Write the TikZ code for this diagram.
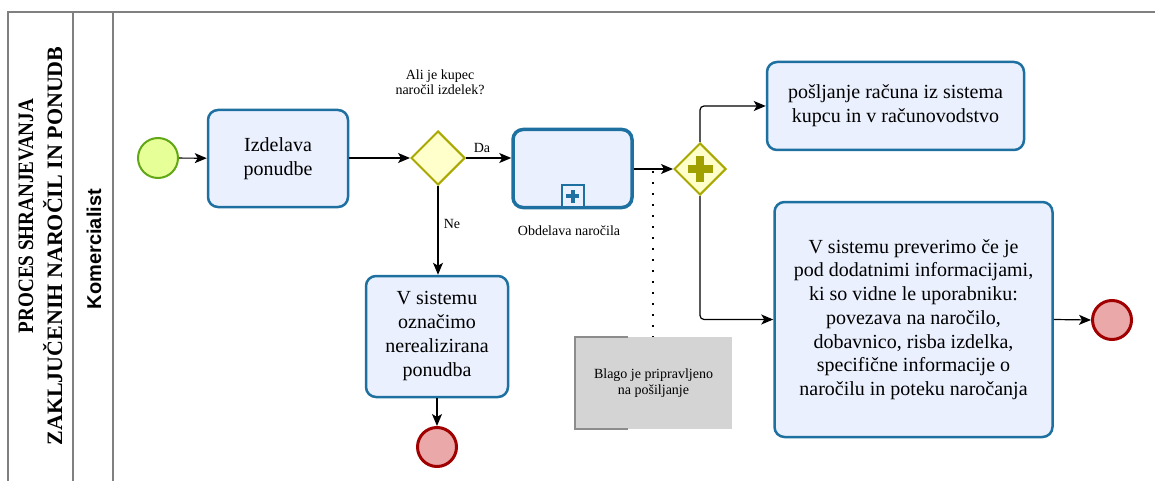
\documentclass[tikz,border=0pt]{standalone}
\usepackage{fontspec}
\setmainfont{Liberation Serif}
\newfontfamily\lsans{Liberation Sans}
\usetikzlibrary{shapes.geometric,arrows.meta,calc}

\definecolor{taskfill}{RGB}{234,240,253}
\definecolor{taskline}{RGB}{30,112,160}
\definecolor{startfill}{RGB}{230,255,151}
\definecolor{startline}{RGB}{98,167,22}
\definecolor{endfill}{RGB}{235,168,168}
\definecolor{endline}{RGB}{160,0,0}
\definecolor{gwfill}{RGB}{255,255,204}
\definecolor{gwline}{RGB}{168,168,0}
\definecolor{gwmark}{RGB}{160,160,0}
\definecolor{poolline}{RGB}{128,128,128}
\definecolor{notefill}{RGB}{212,212,212}
\definecolor{notebar}{RGB}{140,140,140}

\tikzset{
  task/.style={draw=taskline, fill=taskfill, line width=2.5pt, rounded corners=10pt,
    align=center, inner sep=0pt, font=\fontsize{20}{24}\selectfont},
  subproc/.style={task, line width=3.5pt},
  startev/.style={circle, draw=startline, fill=startfill, line width=2pt,
    minimum size=40pt, inner sep=0pt},
  endev/.style={circle, draw=endline, fill=endfill, line width=3pt,
    minimum size=39pt, inner sep=0pt},
  gateway/.style={diamond, draw=gwline, fill=gwfill, line width=2pt,
    minimum width=54pt, minimum height=54pt, inner sep=0pt, aspect=1},
  flow/.style={draw=black, line width=1.2pt, -{Stealth[length=12pt,width=10pt,inset=3pt]}},
  lbl/.style={inner sep=0pt, align=center, font=\fontsize{14}{15.5}\selectfont},
  pool/.style={draw=poolline, line width=1.8pt},
  pooltitle/.style={rotate=90, inner sep=0pt, font=\bfseries\fontsize{22}{29}\selectfont},
  assoc/.style={draw=black, line width=2pt, dash pattern=on 2pt off 9pt},
}

\begin{document}
\begin{tikzpicture}[x=1pt,y=-1pt]
\useasboundingbox (0,0) rectangle (1155,481);

% pool and lane frame
\draw[pool] (8,481) -- (8,12) -- (1155,12);
\draw[pool] (73,12) -- (73,481);
\draw[pool] (113,12) -- (113,481);
\node[pooltitle, xscale=0.87, anchor=base] (title1) at (33,216) {PROCES SHRANJEVANJA};
\node[pooltitle, anchor=base] (title2) at (62,246) {ZAKLJUČENIH NAROČIL IN PONUDB};
\node[rotate=90, inner sep=0pt, font=\lsans\bfseries\fontsize{20}{24}\selectfont]
  (lane) at (94,249) {Komercialist};

% events, tasks and gateways
\node[startev] (start) at (158,158) {};
\node[task, minimum width=140pt, minimum height=97pt] (offer) at (278,158.5)
  {Izdelava\\ponudbe};
\node[gateway] (gw1) at (438,158) {};
\node[subproc, minimum width=119pt, minimum height=78pt] (sub) at (572.5,168.5) {};
\node[gateway, minimum width=52pt, minimum height=52pt] (gw2) at (700,169) {};
\node[task, minimum width=142pt, minimum height=121pt] (reject) at (437,336.5)
  {V sistemu\\označimo\\nerealizirana\\ponudba};
\node[endev] (end1) at (437,447) {};
\node[task, minimum width=257pt, minimum height=88pt] (invoice) at (895.5,106)
  {pošljanje računa iz sistema\\kupcu in v računovodstvo};
\node[task, minimum width=278pt, minimum height=235pt,
      font=\fontsize{20}{23.7}\selectfont] (check) at (913.5,319.5)
  {V sistemu preverimo če je\\pod dodatnimi informacijami,\\ki so vidne le uporabniku:\\povezava na naročilo,\\dobavnico, risba izdelka,\\specifične informacije o\\naročilu in poteku naročanja};
\node[endev] (end2) at (1112,320) {};

% collapsed sub-process marker
\node[draw=taskline, fill=taskfill, line width=2pt, minimum size=22pt, inner sep=0pt,
      anchor=south] (marker) at ($(sub.south)+(0,-1)$) {};
\draw[taskline, line width=4pt] ($(marker.center)+(-6.5,0)$) -- ($(marker.center)+(6.5,0)$)
  ($(marker.center)+(0,-6.5)$) -- ($(marker.center)+(0,6.5)$);

% parallel gateway marker
\draw[gwmark, line width=7.5pt] ($(gw2.center)+(-12.5,0)$) -- ($(gw2.center)+(12.5,0)$)
  ($(gw2.center)+(0,-12.5)$) -- ($(gw2.center)+(0,12.5)$);

% labels
\node[lbl] (question) at (440,82) {Ali je kupec\\naročil izdelek?};
\node[lbl] (yes) at (482,148) {Da};
\node[lbl] (no) at (452,224) {Ne};
\node[lbl] (subname) at (569,231) {Obdelava naročila};

% text annotation
\node[fill=notefill, minimum width=157pt, minimum height=92pt, inner sep=0pt,
      align=center, font=\fontsize{14}{15.5}\selectfont] (note) at (653.5,383)
  {Blago je pripravljeno\\na pošiljanje};
\draw[notebar, line width=1.5pt] ($(note.north west)+(53,0)$) -- (note.north west)
  -- (note.south west) -- ($(note.south west)+(53,0)$);

% sequence flows
\draw[flow] (start) -- (offer);
\draw[flow] (offer.east |- gw1.west) -- (gw1.west);
\draw[flow] (gw1.east) -- (gw1.east -| sub.west);
\draw[flow] (gw1.south) -- (gw1.south |- reject.north);
\draw[flow] (reject.south) -- (end1.north);
\draw[flow] (sub.east |- gw2.west) -- (gw2.west);
\draw[flow, rounded corners=4pt] (gw2.north) -- (gw2.north |- invoice.west) -- (invoice.west);
\draw[flow, rounded corners=4pt] (gw2.south) -- (gw2.south |- check.west) -- (check.west);
\draw[flow] (check.east) -- (end2.west);

% association to the annotation
\coordinate (assocstart) at ($(sub.east |- gw2.west)!0.5!(gw2.west)+(0,2)$);
\draw[assoc] (assocstart) -- (assocstart |- note.north);
\end{tikzpicture}
\end{document}
